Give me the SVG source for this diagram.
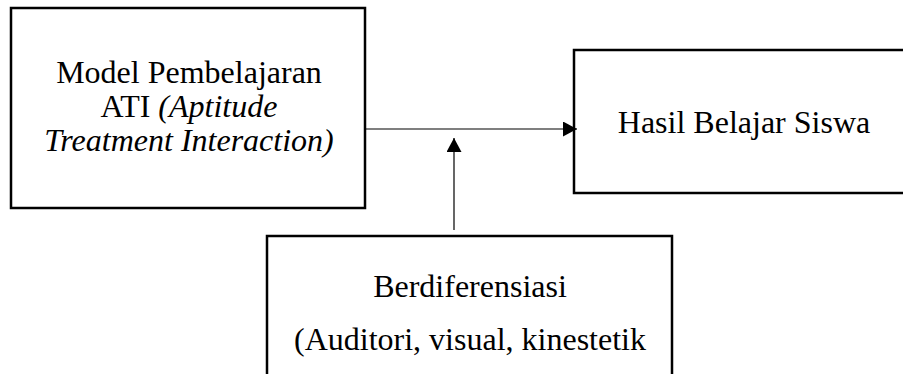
<svg xmlns="http://www.w3.org/2000/svg" width="903" height="374" viewBox="0 0 903 374">
  <style>
    .box { fill: #ffffff; stroke: #000000; stroke-width: 2.5; }
    .txt { font-family: "Liberation Serif", "Times New Roman", serif; font-size: 32px; fill: #000000; text-anchor: middle; }
    .it { font-style: italic; }
    .conn { stroke: #000000; stroke-width: 1.2; fill: none; }
  </style>
  <defs>
    <marker id="arrow" viewBox="0 0 14 15" refX="14" refY="7.5" markerWidth="14" markerHeight="15" markerUnits="userSpaceOnUse" orient="auto">
      <path d="M0,0 L14,7.5 L0,15 Z" fill="#000000"/>
    </marker>
  </defs>
  <rect width="903" height="374" fill="#ffffff"/>
  <g id="node-model">
    <rect class="box" x="11" y="8" width="354" height="200"/>
    <text class="txt" x="189" y="83">Model Pembelajaran</text>
    <text class="txt" x="189" y="117">ATI <tspan class="it">(Aptitude</tspan></text>
    <text class="txt it" x="189" y="151">Treatment Interaction)</text>
  </g>
  <g id="node-hasil">
    <rect class="box" x="574" y="50" width="340" height="143"/>
    <text class="txt" x="744" y="133">Hasil Belajar Siswa</text>
  </g>
  <g id="node-berdiferensiasi">
    <rect class="box" x="267" y="236" width="405" height="150"/>
    <text class="txt" x="470" y="297">Berdiferensiasi</text>
    <text class="txt" x="470" y="350">(Auditori, visual, kinestetik</text>
  </g>
  <g id="connectors">
    <line class="conn" x1="365" y1="129" x2="577" y2="129" marker-end="url(#arrow)"/>
    <line class="conn" x1="454" y1="230" x2="454" y2="138" marker-end="url(#arrow)"/>
  </g>
</svg>
